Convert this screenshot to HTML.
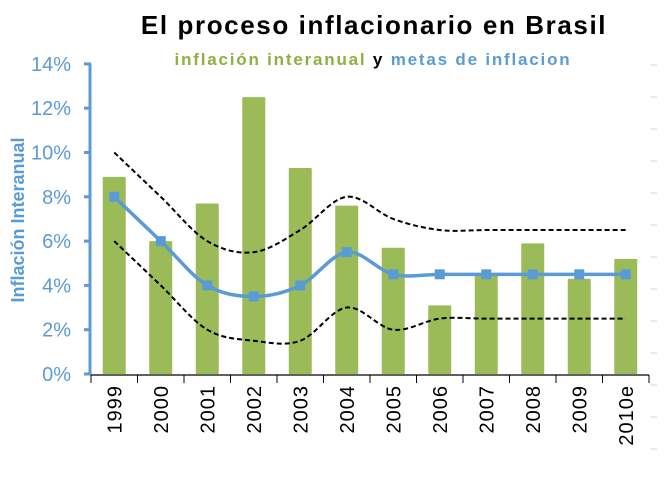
<!DOCTYPE html>
<html><head><meta charset="utf-8"><style>
body{margin:0;background:#fff;width:668px;height:481px;overflow:hidden}
svg{display:block;font-family:"Liberation Sans",sans-serif}
</style></head><body>
<svg id="c" width="668" height="481">
<text x="374" y="34" text-anchor="middle" font-size="26" font-weight="bold" letter-spacing="1.6" fill="#000">El proceso inflacionario  en Brasil</text>
<text x="373" y="65" text-anchor="middle" font-size="17" font-weight="bold" letter-spacing="1.8"><tspan fill="#8FAF3E">inflación interanual</tspan><tspan fill="#000"> y </tspan><tspan fill="#5B9BD5">metas de inflacion</tspan></text>
<text transform="translate(24,220) rotate(-90)" text-anchor="middle" font-size="18" font-weight="bold" fill="#5B9BD5">Inflación Interanual</text>
<g id="g"></g>
</svg>
<script>
const categories=["1999","2000","2001","2002","2003","2004","2005","2006","2007","2008","2009","2010e"];
const inflation=[8.9,6.0,7.7,12.5,9.3,7.6,5.7,3.1,4.5,5.9,4.3,5.2];
const target=[8,6,4,3.5,4,5.5,4.5,4.5,4.5,4.5,4.5,4.5];
const upper=[10,8,6,5.5,6.5,8,7,6.5,6.5,6.5,6.5,6.5];
const lower=[6,4,2,1.5,1.5,3,2,2.5,2.5,2.5,2.5,2.5];
const yTicks=[0,2,4,6,8,10,12,14];
const NS="http://www.w3.org/2000/svg";
const g=document.getElementById('g');
const X0=91,STEP=46.5,Y0=374,YS=22.15;
const xs=i=>X0+STEP*(i+0.5);
const ys=v=>Y0-v*YS;
function el(t,a){const e=document.createElementNS(NS,t);for(const k in a)e.setAttribute(k,a[k]);g.appendChild(e);return e;}
for(let y=65;y<480;y+=32){const t=el('line',{x1:650,x2:657,y1:y,y2:y,stroke:'#d9d9d9','stroke-width':1});

}
inflation.forEach((v,i)=>{const b=el('rect',{x:xs(i)-11.5,y:ys(v),width:23,height:Y0-ys(v),fill:'#9BBB59',rx:1});

});
const ya=el('line',{x1:90,x2:90,y1:ys(14),y2:Y0+1,stroke:'#5B9BD5','stroke-width':3});


yTicks.forEach(v=>{const t=el('line',{x1:84,x2:91,y1:ys(v),y2:ys(v),stroke:'#5B9BD5','stroke-width':3});


const l=el('text',{x:71,y:ys(v)+7,'text-anchor':'end','font-size':20,fill:'#5B9BD5'});l.textContent=v+'%';

});
const xa=el('line',{x1:91,x2:X0+STEP*12,y1:Y0+1,y2:Y0+1,stroke:'#000','stroke-width':1.2});


for(let i=0;i<=12;i++){const t=el('line',{x1:X0+STEP*i,x2:X0+STEP*i,y1:Y0+1,y2:Y0+9,stroke:'#000','stroke-width':1});

}
categories.forEach((c,i)=>{const l=el('text',{transform:`translate(${xs(i)+7},385) rotate(-90)`,'text-anchor':'end','font-size':20,'letter-spacing':1,fill:'#000'});l.textContent=c;

});
function smooth(vals){const p=vals.map((v,i)=>[xs(i),ys(v)]);let d=`M${p[0][0]},${p[0][1]}`;
for(let i=0;i<p.length-1;i++){const a=p[i-1]||p[i],b=p[i],c=p[i+1],e=p[i+2]||c;
d+=` C${b[0]+(c[0]-a[0])/6},${b[1]+(c[1]-a[1])/6} ${c[0]-(e[0]-b[0])/6},${c[1]-(e[1]-b[1])/6} ${c[0]},${c[1]}`;}return d;}
const u=el('path',{d:smooth(upper),fill:'none',stroke:'#000','stroke-width':2,'stroke-dasharray':'5,3'});


const lo=el('path',{d:smooth(lower),fill:'none',stroke:'#000','stroke-width':2,'stroke-dasharray':'5,3'});


const tl=el('path',{d:smooth(target),fill:'none',stroke:'#5B9BD5','stroke-width':3.5});


target.forEach((v,i)=>{const m=el('rect',{x:xs(i)-5,y:ys(v)-5,width:10,height:10,fill:'#5B9BD5'});

});
</script>
</body></html>
